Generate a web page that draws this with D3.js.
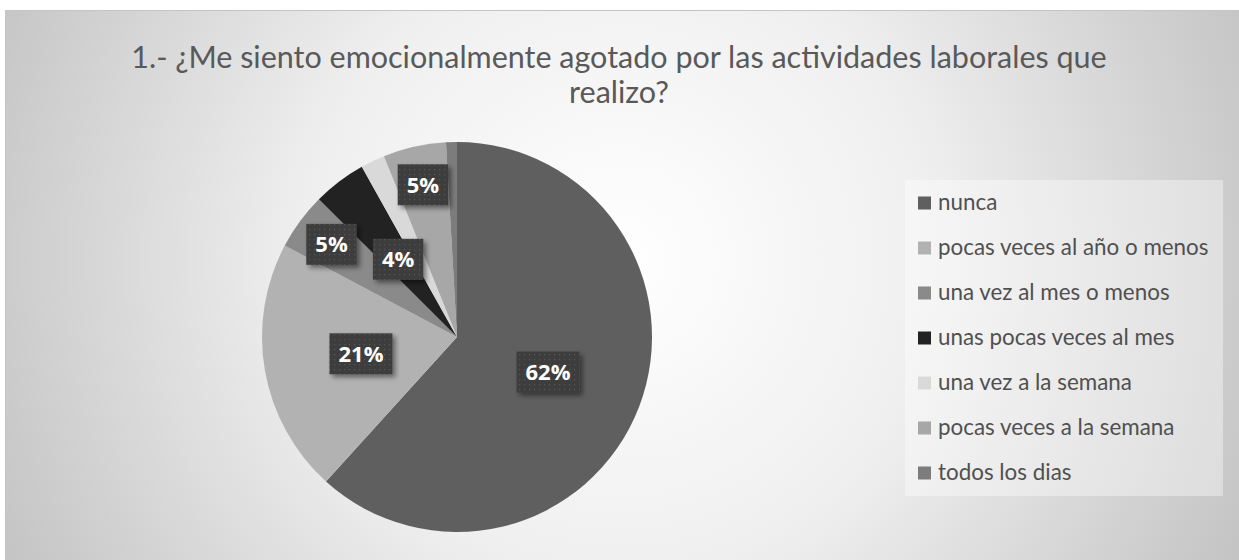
<!DOCTYPE html>
<html>
<head>
<meta charset="utf-8">
<script src="https://cdn.jsdelivr.net/npm/d3@7"></script>
<style>
  html, body { margin: 0; padding: 0; background: #fff; }
  svg { display: block; }
</style>
</head>
<body>
<svg id="chart" width="1239" height="560"></svg>
<script>
// Data
const titleLines = ["1.- ¿Me siento emocionalmente agotado por las actividades laborales que", "realizo?"];
const categories = [
  "nunca",
  "pocas veces al año o menos",
  "una vez al mes o menos",
  "unas pocas veces al mes",
  "una vez a la semana",
  "pocas veces a la semana",
  "todos los dias"
];
const values = [61.6, 21.0, 4.7, 4.4, 2.0, 5.2, 0.9];
const showLabel = [true, true, true, true, false, true, false];
const colors = ["#5f5f5f", "#b2b2b2", "#8a8a8a", "#222222", "#d9d9d9", "#a7a7a7", "#7c7c7c"];

const svg = d3.select("#chart");
const width = +svg.attr("width");
const height = +svg.attr("height");

const defs = svg.append("defs");

// background gradient
const grad = defs.append("radialGradient")
  .attr("id", "bg")
  .attr("gradientUnits", "userSpaceOnUse")
  .attr("cx", 620).attr("cy", 260).attr("r", 700);
grad.append("stop").attr("offset", 0).attr("stop-color", "#ffffff");
grad.append("stop").attr("offset", 0.45).attr("stop-color", "#efefef");
grad.append("stop").attr("offset", 1).attr("stop-color", "#c2c2c2");

// dotted pattern for the data labels
const pat = defs.append("pattern")
  .attr("id", "dots")
  .attr("patternUnits", "userSpaceOnUse")
  .attr("width", 5).attr("height", 5);
pat.append("rect").attr("width", 5).attr("height", 5).attr("fill", "#3e3e3e");
pat.append("rect").attr("x", 2).attr("y", 2).attr("width", 1.2).attr("height", 1.2).attr("fill", "#565656");

const shadow = defs.append("filter").attr("id", "shadow")
  .attr("x", "-30%").attr("y", "-30%").attr("width", "160%").attr("height", "160%");
shadow.append("feDropShadow")
  .attr("dx", 3).attr("dy", 3).attr("stdDeviation", 2.5)
  .attr("flood-color", "#000").attr("flood-opacity", 0.45);

svg.append("rect")
  .attr("x", 5.5).attr("y", 10.5)
  .attr("width", width - 5).attr("height", height - 10)
  .attr("fill", "url(#bg)")
  .attr("stroke", "#c4c4c4");

// Title
const title = svg.append("text")
  .attr("text-anchor", "middle")
  .attr("fill", "#595959")
  .style("font-family", "Lato, 'Open Sans', sans-serif")
  .style("font-size", "30.5px");
title.selectAll("tspan")
  .data(titleLines)
  .enter()
  .append("tspan")
  .attr("x", 619)
  .attr("y", (d, i) => 68 + i * 35)
  .text((d) => d);

// Pie
const cx = 457, cy = 337, R = 195;
const total = d3.sum(values);
const pie = d3.pie().sort(null).value((d) => d.value);
const arcs = pie(categories.map((c, i) => ({ name: c, value: values[i], color: colors[i], show: showLabel[i] })));
const arc = d3.arc().innerRadius(0).outerRadius(R);

const g = svg.append("g").attr("transform", `translate(${cx},${cy})`);

g.selectAll("path.slice")
  .data(arcs)
  .enter()
  .append("path")
  .attr("class", "slice")
  .attr("d", arc)
  .attr("fill", (d) => d.data.color);

// Data labels, placed at half radius, pushed outward when they collide
const fmt = d3.format(".0%");
const labelG = g.append("g");
const placed = [];
const labelled = arcs.filter((d) => d.data.show).slice().sort((a, b) => a.value - b.value);

labelled.forEach((d) => {
  const lg = labelG.append("g");
  const t = lg.append("text")
    .attr("text-anchor", "middle")
    .attr("fill", "#ffffff")
    .style("font-family", "'Open Sans', sans-serif")
    .style("font-weight", "700")
    .style("font-size", "22px")
    .text(fmt(d.value / total));
  const tw = t.node().getComputedTextLength();
  const bw = tw + 18, bh = 41;
  const mid = (d.startAngle + d.endAngle) / 2;
  let box;
  for (const k of [0.5, 0.8]) {
    const x = Math.sin(mid) * R * k, y = -Math.cos(mid) * R * k;
    box = { x0: x - bw / 2, x1: x + bw / 2, y0: y - bh / 2, y1: y + bh / 2, x, y };
    const hit = placed.some((p) => box.x0 < p.x1 && box.x1 > p.x0 && box.y0 < p.y1 && box.y1 > p.y0);
    if (!hit) break;
  }
  placed.push(box);
  lg.insert("rect", "text")
    .attr("x", box.x0).attr("y", box.y0)
    .attr("width", bw).attr("height", bh)
    .attr("fill", "url(#dots)")
    .attr("filter", "url(#shadow)");
  t.attr("x", box.x).attr("y", box.y + 8);
});

// Legend
const legend = svg.append("g");
legend.append("rect")
  .attr("x", 905).attr("y", 180)
  .attr("width", 318).attr("height", 316)
  .attr("fill", "#ffffff")
  .attr("fill-opacity", 0.38);

const rowY = d3.scalePoint().domain(categories).range([203, 473]);
const items = legend.selectAll("g.item")
  .data(arcs)
  .enter()
  .append("g")
  .attr("class", "item")
  .attr("transform", (d) => `translate(918,${rowY(d.data.name)})`);
items.append("rect")
  .attr("x", 0).attr("y", -6.5)
  .attr("width", 13).attr("height", 13)
  .attr("fill", (d) => d.data.color);
items.append("text")
  .attr("x", 20).attr("y", 7)
  .attr("fill", "#505050")
  .style("font-family", "Lato, 'Open Sans', sans-serif")
  .style("font-size", "22.4px")
  .text((d) => d.data.name);
</script>
</body>
</html>
